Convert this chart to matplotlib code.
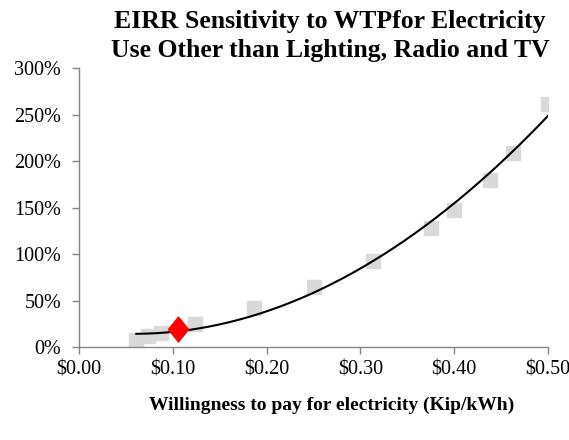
import numpy as np
import matplotlib.pyplot as plt
from matplotlib.ticker import FuncFormatter

plt.rcParams['font.family'] = ['Liberation Serif', 'DejaVu Serif']

# willingness to pay (Kip/kWh) vs EIRR
wtp = [0.061, 0.074, 0.087, 0.124, 0.187, 0.25, 0.313, 0.375, 0.40, 0.438, 0.463, 0.50]
eirr = [0.075, 0.12, 0.15, 0.25, 0.42, 0.65, 0.92, 1.28, 1.47, 1.80, 2.09, 2.62]
base_wtp = [0.1055]
base_eirr = [0.19]

fig = plt.figure(figsize=(5.69, 4.40), dpi=100)
ax = fig.add_axes([0.139, 0.2114, 0.824, 0.6336])

ax.plot(wtp, eirr, 's', color='#d9d9d9', markersize=10.5, zorder=2)

# polynomial trend line (order 2), like the spreadsheet trendline
coef = np.polyfit(wtp, eirr, 2)
xs = np.linspace(min(wtp), max(wtp), 200)
ax.plot(xs, np.polyval(coef, xs), color='black', linewidth=1.5, zorder=3)

# slightly tall diamond for the base case
diamond = [(0, 0.5), (0.4, 0), (0, -0.5), (-0.4, 0), (0, 0.5)]
ax.plot(base_wtp, base_eirr, marker=diamond, linestyle='none', color='#ff0000',
        markersize=18, zorder=4)

ax.set_xlim(0, 0.5)
ax.set_ylim(0, 3.0)
ax.set_xticks(np.arange(0, 0.51, 0.1))
ax.set_yticks(np.arange(0, 3.01, 0.5))
ax.xaxis.set_major_formatter(FuncFormatter(lambda v, p: '$%.2f' % v))
ax.yaxis.set_major_formatter(FuncFormatter(lambda v, p: '%d%%' % round(v * 100)))

for s in ['top', 'right']:
    ax.spines[s].set_visible(False)
for s in ['left', 'bottom']:
    ax.spines[s].set_color('#868686')
    ax.spines[s].set_linewidth(1.0)
ax.tick_params(colors='#868686', labelcolor='black', labelsize=14.5, length=5, width=1.0)
ax.tick_params(axis='x', pad=5)
ax.tick_params(axis='y', pad=8)

fig.text(0.58, 0.936, 'EIRR Sensitivity to WTPfor Electricity', ha='center', va='baseline',
         fontsize=18.5, fontweight='bold')
fig.text(0.58, 0.870, 'Use Other than Lighting, Radio and TV', ha='center', va='baseline',
         fontsize=18.5, fontweight='bold')
fig.text(0.583, 0.068, 'Willingness to pay for electricity (Kip/kWh)', ha='center', va='baseline',
         fontsize=14, fontweight='bold')

fig.savefig('out.png', dpi=100)
